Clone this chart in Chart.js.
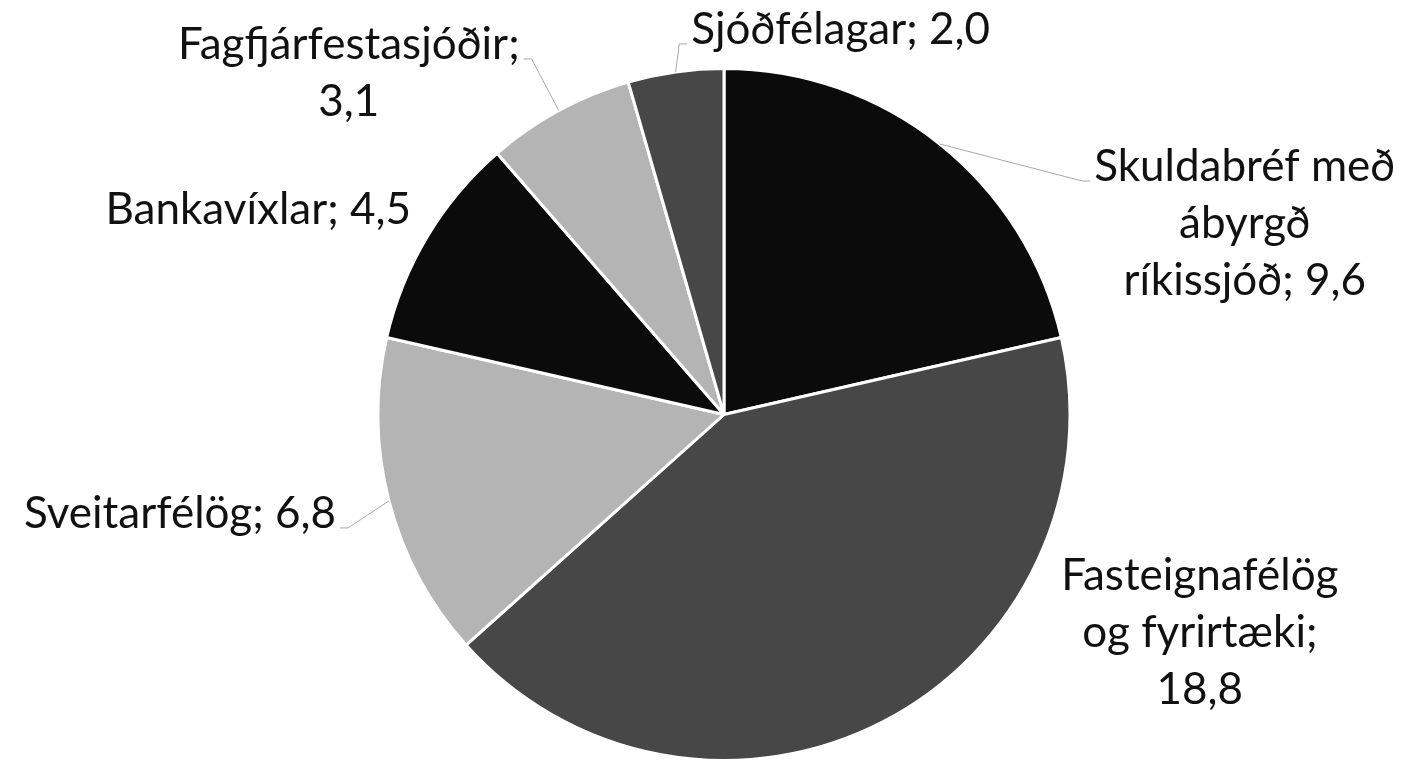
<!DOCTYPE html>
<html>
<head>
<meta charset="utf-8">
<script src="https://cdn.jsdelivr.net/npm/chart.js@4.4.1/dist/chart.umd.min.js"></script>
<style>
  html, body { margin: 0; padding: 0; background: #ffffff; }
</style>
</head>
<body>
<canvas id="chartSkuldabref" width="1419" height="763"></canvas>
<script>
var flokkar = [
    ['Skuldabréf með', 'ábyrgð', 'ríkissjóð'],
    ['Fasteignafélög', 'og fyrirtæki'],
    ['Sveitarfélög'],
    ['Bankavíxlar'],
    ['Fagfjárfestasjóðir'],
    ['Sjóðfélagar']
];
var upphaed = [9.6, 18.8, 6.8, 4.5, 3.1, 2.0];
var litir = ['#0b0b0b', '#474747', '#b4b4b4', '#0b0b0b', '#b4b4b4', '#474747'];

// hvar merkin lenda miðað við ytri brún sneiðar (miðhorn)
// tengi = hvaða lína fær tengilínu (-1 = engin)
var merkiStada = [
    { dx: 305, dy: 80, tengi: 0, nyLina: false },
    { dx: 317, dy: -89, tengi: -1, nyLina: true },
    { dx: -209, dy: 13, tengi: 0, nyLina: false },
    { dx: -169, dy: -27, tengi: -1, nyLina: false },
    { dx: -210, dy: -37, tengi: 0, nyLina: true },
    { dx: 165, dy: -42, tengi: 0, nyLina: false }
];

var leturStaerd = 44;
var linuHaed = 57;

var merkiPlugin = {
    id: 'merki',
    afterDatasetsDraw: function (chart) {
        var ctx = chart.ctx;
        var meta = chart.getDatasetMeta(0);
        ctx.save();
        ctx.font = leturStaerd + 'px Lato';
        ctx.textAlign = 'center';
        ctx.textBaseline = 'middle';
        meta.data.forEach(function (arc, i) {
            var p = arc.getProps(['x', 'y', 'startAngle', 'endAngle', 'outerRadius'], true);
            var mid = (p.startAngle + p.endAngle) / 2;
            var ax = p.x + Math.cos(mid) * p.outerRadius;
            var ay = p.y + Math.sin(mid) * p.outerRadius;
            var s = merkiStada[i];
            var gildi = upphaed[i].toFixed(1).replace('.', ',');
            var linur = flokkar[i].slice();
            var last = linur.length - 1;
            if (s.nyLina) {
                linur[last] += ';';
                linur.push(gildi);
            } else {
                linur[last] += '; ' + gildi;
            }
            var cx = ax + s.dx;
            var cy = ay + s.dy;
            var top = cy - (linur.length - 1) * linuHaed / 2;

            if (s.tengi >= 0) {
                var w = ctx.measureText(linur[s.tengi]).width;
                var hlid = ax < cx ? -1 : 1;
                var ex = cx + hlid * (w / 2 + 4);
                var ey = top + s.tengi * linuHaed + 14;
                ctx.beginPath();
                ctx.strokeStyle = '#a8a8a8';
                ctx.lineWidth = 1;
                ctx.moveTo(ax, ay);
                ctx.lineTo(ex + hlid * 8, ey);
                ctx.lineTo(ex, ey);
                ctx.stroke();
            }

            ctx.fillStyle = '#111111';
            linur.forEach(function (t, k) {
                ctx.fillText(t, cx, top + k * linuHaed);
            });
        });
        ctx.restore();
    }
};

function teikna() {
    var ctxSkuldabref = document.getElementById('chartSkuldabref');
    new Chart(ctxSkuldabref, {
        type: 'pie',
        data: {
            labels: flokkar,
            datasets: [{
                data: upphaed,
                backgroundColor: litir,
                borderColor: '#ffffff',
                borderWidth: 3
            }]
        },
        options: {
            responsive: false,
            animation: false,
            layout: {
                padding: { top: 67, bottom: 1, left: 29, right: 0 }
            },
            plugins: {
                legend: { display: false },
                tooltip: { enabled: false }
            }
        },
        plugins: [merkiPlugin]
    });
}

if (document.fonts && document.fonts.load) {
    document.fonts.load(leturStaerd + 'px Lato').then(teikna, teikna);
} else {
    teikna();
}
</script>
</body>
</html>
